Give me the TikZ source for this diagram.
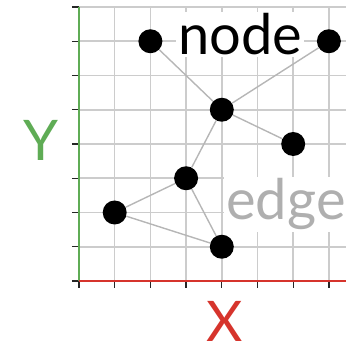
\documentclass[tikz,border=0pt]{standalone}
\usepackage{fontspec}
\setmainfont{Lato}
\definecolor{gridgray}{RGB}{204,204,204}
\definecolor{edgegray}{RGB}{182,182,182}
\definecolor{labelgray}{RGB}{175,175,175}
\definecolor{axgreen}{RGB}{95,172,85}
\definecolor{axred}{RGB}{214,52,44}
\begin{document}
\begin{tikzpicture}[x=35.7pt,y=34.25pt,
  dot/.style={circle,fill=black,minimum size=24pt,inner sep=0pt},
  link/.style={draw=edgegray,line width=1.4pt},
  gridline/.style={draw=gridgray,line width=1.6pt},
  tick/.style={draw=black!85,line width=1.3pt},
  biglabel/.style={font=\fontsize{56}{56}\selectfont,inner sep=2pt}]
\useasboundingbox (-79pt,-63pt) rectangle (267pt,281pt);
% grid
\foreach \i in {1,...,7} \draw[gridline] (\i,0) -- (\i,8);
\foreach \j in {1,...,8} \draw[gridline] (0,\j) -- (267pt,\j);
% ticks
\foreach \j in {0,...,8} \draw[tick] (-7pt,\j) -- (0,\j);
\foreach \i in {0,...,7} \draw[tick] (\i,0) -- (\i,-7pt);
% axes
\draw[axgreen,line width=1.6pt] (0,0) -- (0,8);
\draw[axred,line width=1.6pt] (0,0) -- (267pt,0);
% text labels
\node[biglabel,fill=white,anchor=base,text=black] (nodelabel) at (161pt,226pt) {node};
\node[biglabel,fill=white,anchor=base,text=labelgray] (edgelabel) at (207pt,61pt) {edge};
\node[biglabel,text=axgreen] (ylabel) at (-38pt,141pt) {Y};
\node[biglabel,text=axred] (xlabel) at (146pt,-40pt) {X};
% nodes
\node[dot] (a) at (2,7) {};
\node[dot] (b) at (7,7) {};
\node[dot] (c) at (4,5) {};
\node[dot] (d) at (6,4) {};
\node[dot] (e) at (3,3) {};
\node[dot] (f) at (1,2) {};
\node[dot] (g) at (4,1) {};
% connectors
\draw[link] (a) -- (c);
\draw[link] (b) -- (c);
\draw[link] (c) -- (d);
\draw[link] (c) -- (e);
\draw[link] (e) -- (f);
\draw[link] (e) -- (g);
\draw[link] (f) -- (g);
\end{tikzpicture}
\end{document}
